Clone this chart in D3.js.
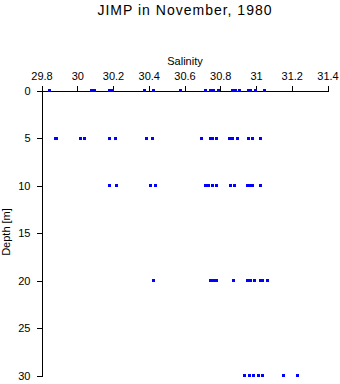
<!DOCTYPE html>
<html>
<head>
<meta charset="utf-8">
<script src="https://cdn.jsdelivr.net/npm/d3@7"></script>
<style>
  body { margin: 0; background: #fff; }
  svg text { font-family: "Liberation Sans", Arial, sans-serif; fill: #000; }
</style>
</head>
<body>
<div id="chart"></div>
<script>
// salinity readings at each depth
let depths = [0, 5, 10, 20, 30];
let sal0 = [29.843, 30.08, 30.094, 30.183, 30.2, 30.378, 30.428, 30.579, 30.719, 30.745, 30.76,
            30.789, 30.869, 30.883, 30.909, 30.958, 30.969, 30.999, 31.048];
let sal5 = [29.878, 29.884, 30.02, 30.042, 30.179, 30.216, 30.389, 30.419, 30.697, 30.745, 30.759,
            30.779, 30.849, 30.869, 30.895, 30.958, 30.978, 31.025];
let sal10 = [30.182, 30.221, 30.411, 30.438, 30.717, 30.734, 30.757, 30.779, 30.86, 30.877,
             30.95, 30.969, 30.98, 31.027];
let sal20 = [30.428, 30.748, 30.762, 30.779, 30.876, 30.955, 30.972, 30.989, 31.025, 31.039, 31.066];
let sal30 = [30.937, 30.965, 30.988, 31.016, 31.036, 31.156, 31.234];
let xTicks = [29.8, 30, 30.2, 30.4, 30.6, 30.8, 31, 31.2, 31.4];
let yTicks = [0, 5, 10, 15, 20, 25, 30];

let w = 340;
let h = 384;

let svg = d3.select("#chart")
    .append("svg")
    .attr("width", w)
    .attr("height", h);

let x = d3.scaleLinear().domain([29.8, 31.4]).range([41.5, 327.5]);
let y = d3.scaleLinear().domain([0, 30]).range([90.5, 375.5]);

let series = [sal0, sal5, sal10, sal20, sal30];
let points = [];
series.forEach(function (s, i) {
    s.forEach(function (v) { points.push([v, depths[i]]); });
});

svg.append("text")
    .attr("x", 185)
    .attr("y", 15)
    .attr("text-anchor", "middle")
    .attr("font-size", "14px")
    .attr("letter-spacing", "1px")
    .text("JIMP in November, 1980");

// x axis across the top
let xAxis = svg.append("g")
    .attr("transform", "translate(0," + y(0) + ")")
    .call(d3.axisTop(x).tickValues(xTicks).tickFormat(d3.format("")).tickSizeOuter(0).tickSize(5).tickPadding(6));

let yAxis = svg.append("g")
    .attr("transform", "translate(" + x(29.8) + ",0)")
    .call(d3.axisLeft(y).tickValues(yTicks).tickSizeOuter(0).tickSize(5).tickPadding(6));

svg.selectAll(".domain, .tick line").attr("stroke", "#000").attr("shape-rendering", "crispEdges");
svg.selectAll(".tick text")
    .attr("font-size", "11px")
    .attr("font-family", "Liberation Sans, Arial, sans-serif")
    .attr("fill", "#000");

svg.append("text")
    .attr("x", 185)
    .attr("y", 65)
    .attr("text-anchor", "middle")
    .attr("font-size", "11px")
    .text("Salinity");

svg.append("text")
    .attr("transform", "translate(10,232) rotate(-90)")
    .attr("text-anchor", "middle")
    .attr("font-size", "11px")
    .text("Depth [m]");

svg.selectAll("rect.pt")
    .data(points)
    .enter()
    .append("rect")
    .attr("class", "pt")
    .attr("x", function (d) { return Math.round(x(d[0]) - 1.5); })
    .attr("y", function (d) { return Math.round(y(d[1]) - 1.5); })
    .attr("width", 3)
    .attr("height", 3)
    .attr("fill", "#0000ff")
    .attr("shape-rendering", "crispEdges");
</script>
</body>
</html>
